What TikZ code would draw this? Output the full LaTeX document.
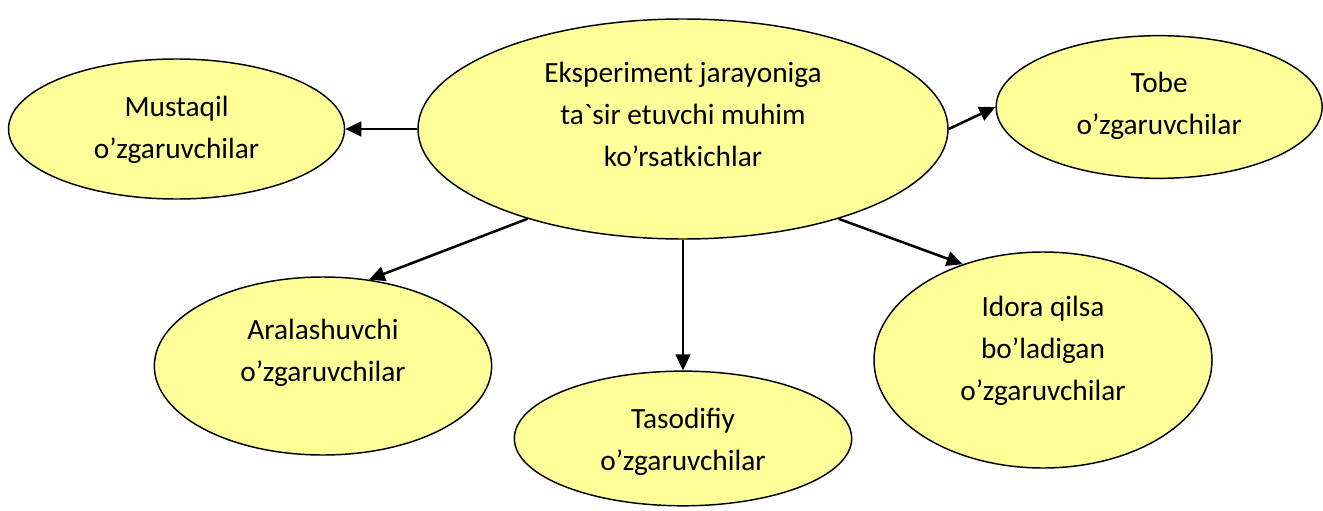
\documentclass[tikz,border=0pt]{standalone}
\usepackage{fontspec}
\setmainfont{Carlito}[Ligatures=TeXOff]
\usepackage{tikz}
\usetikzlibrary{shapes.geometric, arrows.meta, positioning}
\usepackage{xcolor}
\definecolor{paleyellow}{RGB}{255,255,153}
% text block raised inside its oval
\newcommand{\liftlines}[2]{\raisebox{#1}[0pt][0pt]{\begin{tabular}{@{}c@{}}#2\end{tabular}}}

\begin{document}
\begin{tikzpicture}[
    x=0.75pt, y=-0.75pt,
    oval/.style={ellipse, draw=black, fill=paleyellow, line width=1.1pt, inner sep=0pt, font=\fontsize{22}{31.5}\selectfont},
    link/.style={-{Triangle[length=12pt, width=11pt]}, line width=1.9pt},
]
    \useasboundingbox (0,0) rectangle (1323,510);

    % Central idea
    \node[oval, minimum width=397.5pt, minimum height=165pt] (main) at (683,129)
        {\liftlines{4.5pt}{Eksperiment jarayoniga\\ta`sir etuvchi muhim\\ko’rsatkichlar}};

    % Kinds of variables
    \node[oval, minimum width=252pt, minimum height=105pt, left=54pt of main] (mustaqil)
        {\liftlines{-5pt}{Mustaqil\\o’zgaruvchilar}};
    \node[oval, minimum width=244.5pt, minimum height=107pt, right=35pt of main, yshift=16.5pt] (tobe)
        {\liftlines{-4pt}{Tobe\\o’zgaruvchilar}};
    \node[oval, minimum width=253pt, minimum height=101pt, below=98pt of main] (tasodifiy)
        {\liftlines{-7.5pt}{Tasodifiy\\o’zgaruvchilar}};
    \node[oval, minimum width=253pt, minimum height=133.5pt] (aralash) at (323,366)
        {\liftlines{5pt}{Aralashuvchi\\o’zgaruvchilar}};
    \node[oval, minimum width=253.5pt, minimum height=162pt] (idora) at (1043,360)
        {\liftlines{2pt}{Idora qilsa\\bo’ladigan\\o’zgaruvchilar}};

    % Arrows
    \draw[link] (main.west) -- (mustaqil.east);
    \draw[link] (main.east) -- (tobe.west);
    \draw[link] (main.210.5) -- (aralash.62.5);
    \draw[link] (main.south) -- (tasodifiy.north);
    \draw[link] (main.-30.7) -- (idora.130);

\end{tikzpicture}
\end{document}
